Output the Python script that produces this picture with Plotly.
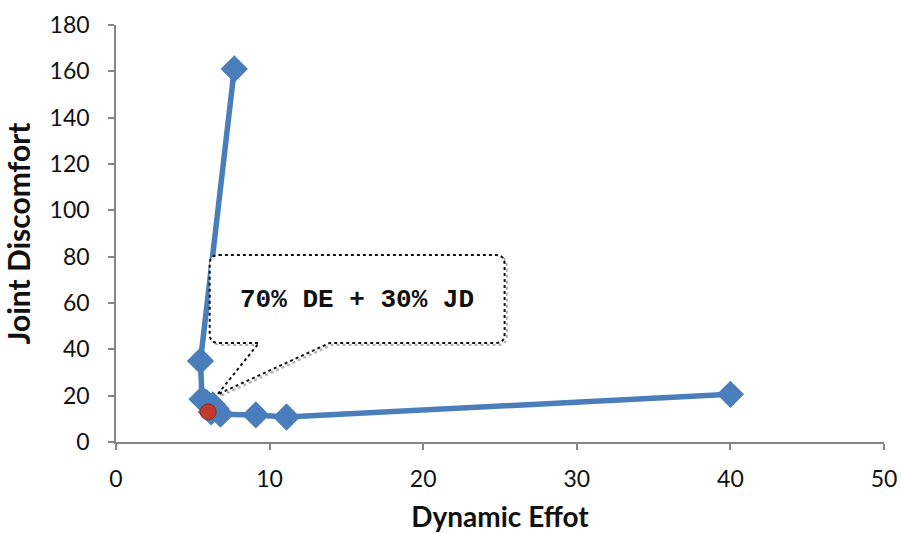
import plotly.graph_objects as go

# Pareto front: Dynamic Effort vs Joint Discomfort
dynamic_effort = [7.7, 5.5, 5.6, 5.9, 6.3, 6.5, 6.2, 6.8, 9.1, 11.1, 40.0]
joint_discomfort = [161, 35, 18.5, 17, 16, 14.5, 13, 12, 11.7, 10.8, 20.6]

selected_x = [6.0]
selected_y = [13]
callout_text = "70% DE + 30% JD"

x_ticks = [0, 10, 20, 30, 40, 50]
y_ticks = [0, 20, 40, 60, 80, 100, 120, 140, 160, 180]

blue = "#4a7ebb"

fig = go.Figure()
fig.add_trace(go.Scatter(
    x=dynamic_effort, y=joint_discomfort, mode="lines+markers",
    line=dict(color=blue, width=5.5),
    marker=dict(symbol="diamond", size=21, color=blue),
    showlegend=False, hoverinfo="x+y"))
fig.add_trace(go.Scatter(
    x=selected_x, y=selected_y, mode="markers",
    marker=dict(symbol="circle", size=16, color="#c0392b",
                line=dict(color="#8e2a22", width=1)),
    showlegend=False))

# callout box (data coordinates)
x0, x1, y0, y1 = 6.1, 25.3, 42.7, 80.7
r = 0.6
ry = r * 15.36 / 2.317
bx1, bx2 = 9.3, 13.9
tipx, tipy = 6.6, 20.5
def callout_path(dx=0.0, dy=0.0):
    X0, X1, Y0, Y1 = x0 + dx, x1 + dx, y0 + dy, y1 + dy
    return (f"M{X0+r},{Y1} L{X1-r},{Y1} Q{X1},{Y1} {X1},{Y1-ry} "
            f"L{X1},{Y0+ry} Q{X1},{Y0} {X1-r},{Y0} "
            f"L{bx2+dx},{Y0} L{tipx+dx},{tipy+dy} L{bx1+dx},{Y0} "
            f"L{X0+r},{Y0} Q{X0},{Y0} {X0},{Y0+ry} L{X0},{Y1-ry} Q{X0},{Y1} {X0+r},{Y1} Z")

fig.add_shape(type="path", path=callout_path(0.15, -0.8), xref="x", yref="y",
              line=dict(color="#b0b0b0", width=2, dash="dot"), fillcolor="rgba(0,0,0,0)")
fig.add_shape(type="path", path=callout_path(), xref="x", yref="y",
              line=dict(color="#111111", width=2, dash="dot"), fillcolor="white")
fig.add_annotation(x=(x0 + x1) / 2, y=61.5, xref="x", yref="y", text="<b>" + callout_text + "</b>",
                   showarrow=False, font=dict(family="Liberation Mono", size=26, color="#111111"))

axis_common = dict(showgrid=False, zeroline=False, showline=True, linecolor="#868686", linewidth=1.5,
                   ticks="outside", ticklen=6, tickcolor="#868686", tickwidth=1.5,
                   tickfont=dict(family="Lato", size=23, color="#111111"))
fig.update_xaxes(range=[0, 50], tickvals=x_ticks, ticklabelstandoff=10,
                 title=dict(text="<b>Dynamic Effot</b>", font=dict(family="Lato", size=28, color="#111111"), standoff=20),
                 **axis_common)
fig.update_yaxes(range=[0, 180], tickvals=y_ticks, ticklabelstandoff=14,
                 title=dict(text="<b>Joint Discomfort</b>", font=dict(family="Lato", size=30, color="#111111"), standoff=19),
                 **axis_common)
fig.update_layout(width=901, height=533, margin=dict(l=116, r=17, t=25, b=91, autoexpand=False),
                  plot_bgcolor="white", paper_bgcolor="white")
fig.write_html("out.html", config={"displayModeBar": False},
               post_script="document.body.style.margin='0';document.body.style.overflow='hidden';")
